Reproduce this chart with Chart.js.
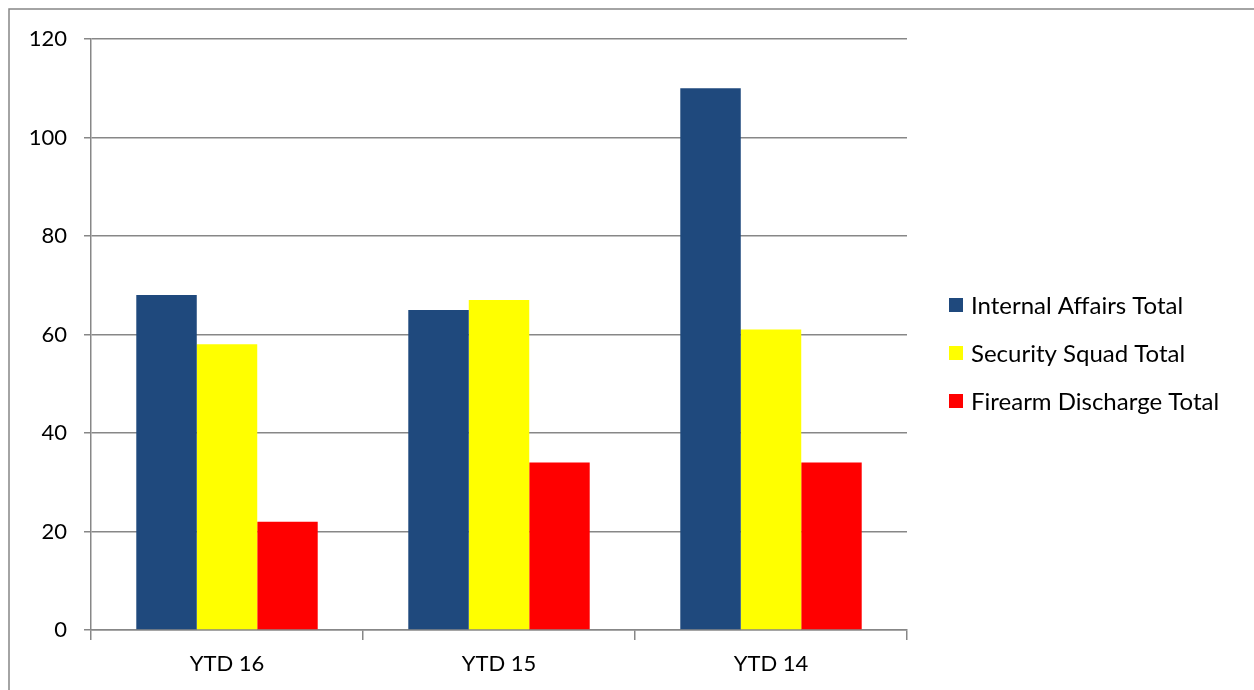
<!DOCTYPE html>
<html>
<head>
<meta charset="utf-8">
<script src="https://cdn.jsdelivr.net/npm/chart.js@4.4.1/dist/chart.umd.min.js"></script>
<style>
html,body{margin:0;padding:0;background:#fff;}
#wrap{position:relative;width:1254px;height:690px;}
</style>
</head>
<body>
<div id="wrap"><canvas id="c" width="1254" height="690"></canvas></div>
<script>
const categories = ["YTD 16", "YTD 15", "YTD 14"];
const internalAffairs = [68, 65, 110];
const securitySquad = [58, 67, 61];
const firearmDischarge = [22, 34, 34];
const seriesNames = ["Internal Affairs Total", "Security Squad Total", "Firearm Discharge Total"];
const yTicks = [0, 20, 40, 60, 80, 100, 120];

const FONT = "Lato, 'Open Sans', sans-serif";

const framePlugin = {
  id: 'frame',
  beforeDraw(chart) {
    const ctx = chart.ctx;
    ctx.save();
    ctx.fillStyle = '#fff';
    ctx.fillRect(0, 0, chart.width, chart.height);
    ctx.strokeStyle = '#878787';
    ctx.lineWidth = 1.5;
    ctx.beginPath();
    ctx.moveTo(9, 700);
    ctx.lineTo(9, 9);
    ctx.lineTo(1260, 9);
    ctx.stroke();
    ctx.restore();
  }
};

const legendPlugin = {
  id: 'customLegend',
  afterDraw(chart) {
    const ctx = chart.ctx;
    ctx.save();
    ctx.font = "24px " + FONT;
    ctx.textBaseline = 'middle';
    ctx.textAlign = 'left';
    const ys = [305, 353, 401];
    chart.data.datasets.forEach((ds, i) => {
      ctx.fillStyle = ds.backgroundColor;
      ctx.fillRect(949, ys[i] - 7, 14, 14);
      ctx.fillStyle = '#000';
      ctx.fillText(ds.label, 971, ys[i] + 1);
    });
    ctx.restore();
  }
};

new Chart(document.getElementById('c'), {
  type: 'bar',
  data: {
    labels: categories,
    datasets: [
      { label: seriesNames[0], data: internalAffairs, backgroundColor: '#1F497D', borderWidth: 0 },
      { label: seriesNames[1], data: securitySquad, backgroundColor: '#FFFF00', borderWidth: 0 },
      { label: seriesNames[2], data: firearmDischarge, backgroundColor: '#FF0000', borderWidth: 0 }
    ]
  },
  options: {
    responsive: false,
    animation: false,
    devicePixelRatio: 1,
    layout: { padding: { left: 0, top: 39, right: 347, bottom: 0 } },
    datasets: { bar: { categoryPercentage: 0.667, barPercentage: 1.0 } },
    plugins: { legend: { display: false }, tooltip: { enabled: false } },
    scales: {
      x: {
        grid: { display: true, drawOnChartArea: false, drawTicks: true, tickLength: 10, color: '#878787', lineWidth: 1.5, offset: true },
        border: { display: true, color: '#878787', width: 1.5 },
        ticks: { color: '#000', font: { family: FONT, size: 22 }, padding: 11 },
        afterFit(scale) { scale.height = 60; }
      },
      y: {
        min: 0, max: 120,
        afterBuildTicks(scale) { scale.ticks = yTicks.map(v => ({ value: v })); },
        grid: { color: '#878787', lineWidth: 1.5, tickLength: 7 },
        border: { display: true, color: '#878787', width: 1.5 },
        ticks: { color: '#000', font: { family: FONT, size: 22 }, padding: 17 },
        afterFit(scale) { scale.width = 91; }
      }
    }
  },
  plugins: [framePlugin, legendPlugin]
});
</script>
</body>
</html>
